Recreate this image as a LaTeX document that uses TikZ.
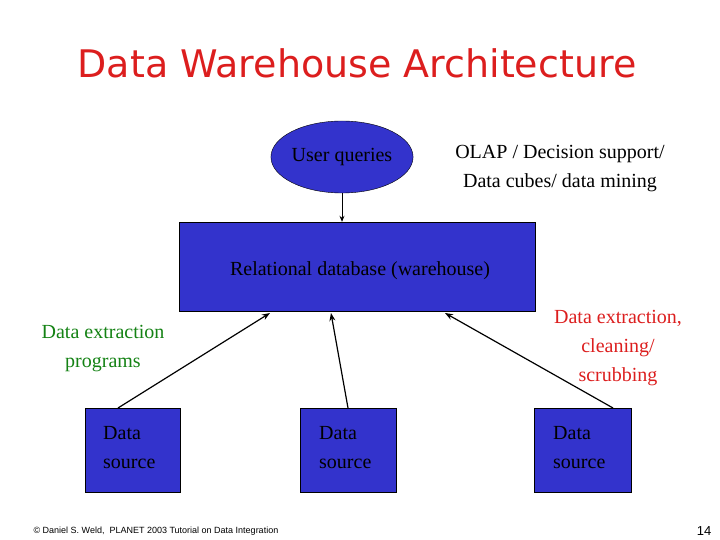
\documentclass[tikz,border=0pt]{standalone}
\usepackage{fontspec}
\setmainfont{Liberation Serif}
\newfontfamily\ttl{DejaVu Sans}
\newfontfamily\ftr{Liberation Sans}
\usetikzlibrary{shapes.geometric,arrows.meta}
\definecolor{bx}{RGB}{51,51,204}
\definecolor{tr}{RGB}{220,30,30}
\definecolor{gr}{RGB}{20,130,20}
\begin{document}
\begin{tikzpicture}[x=1pt,y=-1pt,
  box/.style={draw=black,fill=bx,inner sep=0pt},
  lbl/.style={font=\fontsize{20}{29}\selectfont,align=center,inner sep=0pt},
  arr/.style={-{Stealth[length=8pt,width=6pt]},line width=1.2pt}]
\useasboundingbox (0,0) rectangle (720,540);
\node[font=\ttl\fontsize{38}{40}\selectfont,text=tr] (title) at (357,63) {Data Warehouse Architecture};
\node[ellipse,box,minimum width=140pt,minimum height=72pt,font=\fontsize{20}{24}\selectfont] (uq) at (342,157) {User queries};
\node[lbl] (olap) at (560,169) {OLAP / Decision support/\\Data cubes/ data mining};
\node[box,minimum width=356pt,minimum height=89pt] (db) at (357,266.5) {};
\node[lbl] (dbt) at (360,271) {Relational database (warehouse)};
\node[box,minimum width=95pt,minimum height=84pt] (s1) at (132.5,450) {};
\node[box,minimum width=96pt,minimum height=84pt] (s2) at (348,450) {};
\node[box,minimum width=97pt,minimum height=84pt] (s3) at (582.5,450) {};
\node[lbl,align=left,anchor=west] at (103,448) {Data\\source};
\node[lbl,align=left,anchor=west] at (319,448) {Data\\source};
\node[lbl,align=left,anchor=west] at (553,448) {Data\\source};
\node[lbl,text=gr] (g) at (103,349) {Data extraction\\programs};
\node[lbl,text=tr] (r) at (618,348) {Data extraction,\\cleaning/\\scrubbing};
\coordinate (t1) at (270,313); \coordinate (t2) at (331,313); \coordinate (t3) at (445,313);
\coordinate (f1) at (118,408); \coordinate (f2) at (348,408); \coordinate (f3) at (613,408);
\draw[arr] (f1) -- (t1);
\draw[arr] (f2) -- (t2);
\draw[arr] (f3) -- (t3);
\draw[-{Stealth[length=6pt,width=5pt]},line width=0.8pt] (uq.south) -- (uq.south |- db.north);
\node[font=\ftr\fontsize{9}{10}\selectfont,anchor=west] (ft) at (30,531) {\textcopyright{} Daniel S. Weld,\ \ PLANET 2003 Tutorial on Data Integration};
\node[font=\ftr\fontsize{13}{14}\selectfont] (pg) at (704,531) {14};
\end{tikzpicture}
\end{document}
